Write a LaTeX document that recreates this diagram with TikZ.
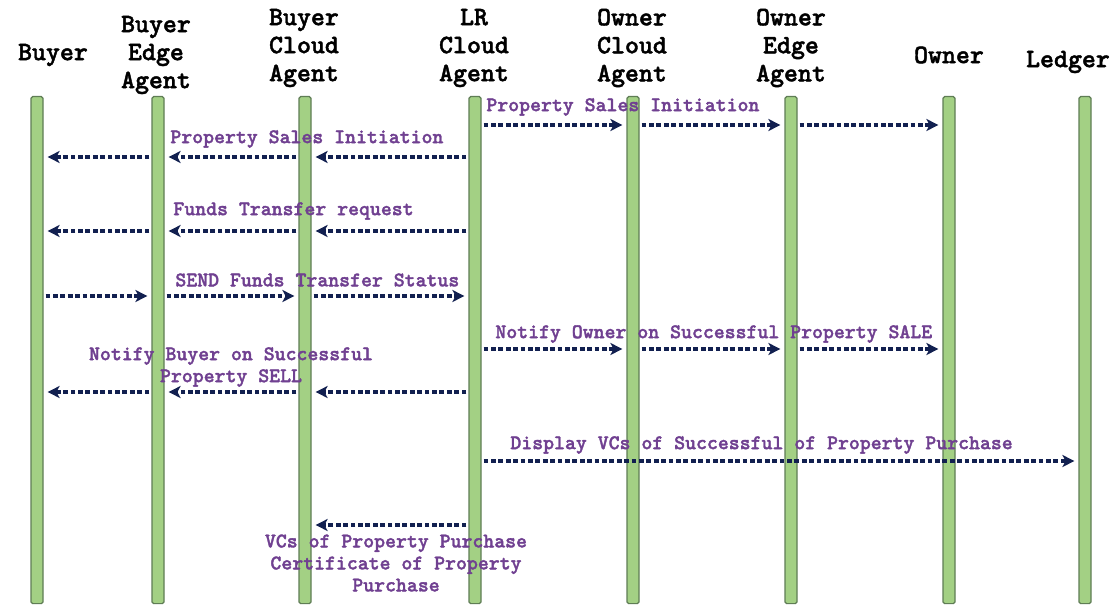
\documentclass[tikz,border=0pt]{standalone}
\usepackage{fontspec}
\newfontfamily\cour{lmmonolt10-bold.otf}[FakeBold=1.6]
\usetikzlibrary{arrows.meta}
\definecolor{barfill}{RGB}{163,208,132}
\definecolor{barline}{RGB}{95,125,85}
\definecolor{msgcol}{RGB}{18,32,80}
\definecolor{lblcol}{RGB}{112,64,145}
\tikzset{
 lifebar/.style={draw=barline, fill=barfill, line width=0.6pt, minimum width=6pt, minimum height=253.5pt, inner sep=0pt, anchor=north, rounded corners=0.8pt},
 hdr/.style={font=\cour\fontsize{13.3}{14}\selectfont, align=center, inner sep=0pt},
 lbl/.style={font=\cour\fontsize{10.4}{11}\selectfont, text=lblcol, inner sep=0pt},
 msg/.style={draw=msgcol, line width=1.6pt, dash pattern=on 2.4pt off 1.3pt, -{Stealth[length=6pt,width=6pt,inset=1.6pt]}, shorten >=2pt, shorten <=1pt},
}
\begin{document}
\begin{tikzpicture}[x=0.5pt,y=-0.5pt]
\useasboundingbox[fill=white] (0,0) rectangle (1112,610);
% lifelines
\node[lifebar] (b)  at (37,96) {};
\node[lifebar] (be) at (158,96) {};
\node[lifebar] (bc) at (305,96) {};
\node[lifebar] (lr) at (475,96) {};
\node[lifebar] (oc) at (633,96) {};
\node[lifebar] (oe) at (791,96) {};
\node[lifebar] (ow) at (949,96) {};
\node[lifebar] (le) at (1085,96) {};
% headers
\node[hdr] (hb)  at (53,55) {Buyer};
\node[hdr] (hbe) at (156,55) {Buyer\\Edge\\Agent};
\node[hdr] (hbc) at (304,48) {Buyer\\Cloud\\Agent};
\node[hdr] (hlr) at (474,48) {LR\\Cloud\\Agent};
\node[hdr] (hoc) at (632,48) {Owner\\Cloud\\Agent};
\node[hdr] (hoe) at (791,48) {Owner\\Edge\\Agent};
\node[hdr] (how) at (949,55) {Owner};
\node[hdr] (hle) at (1068,62) {Ledger};
% message levels
\coordinate (y1) at (0,125);
\coordinate (y2) at (0,157);
\coordinate (y3) at (0,231);
\coordinate (y4) at (0,296);
\coordinate (y5) at (0,349);
\coordinate (y6) at (0,392);
\coordinate (y7) at (0,461);
\coordinate (y8) at (0,525);
% 1
\draw[msg] (lr.east |- y1) -- (oc.west |- y1);
\draw[msg] (oc.east |- y1) -- (oe.west |- y1);
\draw[msg] (oe.east |- y1) -- (ow.west |- y1);
% 2
\draw[msg] (lr.west |- y2) -- (bc.east |- y2);
\draw[msg] (bc.west |- y2) -- (be.east |- y2);
\draw[msg] (be.west |- y2) -- (b.east |- y2);
% 3
\draw[msg] (lr.west |- y3) -- (bc.east |- y3);
\draw[msg] (bc.west |- y3) -- (be.east |- y3);
\draw[msg] (be.west |- y3) -- (b.east |- y3);
% 4
\draw[msg] (b.east |- y4) -- (be.west |- y4);
\draw[msg] (be.east |- y4) -- (bc.west |- y4);
\draw[msg] (bc.east |- y4) -- (lr.west |- y4);
% 5
\draw[msg] (lr.east |- y5) -- (oc.west |- y5);
\draw[msg] (oc.east |- y5) -- (oe.west |- y5);
\draw[msg] (oe.east |- y5) -- (ow.west |- y5);
% 6
\draw[msg] (lr.west |- y6) -- (bc.east |- y6);
\draw[msg] (bc.west |- y6) -- (be.east |- y6);
\draw[msg] (be.west |- y6) -- (b.east |- y6);
% 7
\draw[msg] (lr.east |- y7) -- (le.west |- y7);
% 8
\draw[msg] (lr.west |- y8) -- (bc.east |- y8);
% labels
\node[lbl, anchor=west] (l1) at (486,107) {Property Sales Initiation};
\node[lbl, anchor=west] (l2) at (170,139) {Property Sales Initiation};
\node[lbl, anchor=west] (l3) at (173,211) {Funds Transfer request};
\node[lbl, anchor=west] (l4) at (175,280) {SEND Funds Transfer Status};
\node[lbl, anchor=west] (l5) at (495,334) {Notify Owner on Successful Property SALE};
\node[lbl, align=center] (l6) at (231,367) {Notify Buyer on Successful\\Property SELL};
\node[lbl, anchor=west] (l7) at (510,445) {Display VCs of Successful of Property Purchase};
\node[lbl, align=center] (l8) at (396,563) {VCs of Property Purchase\\Certificate of Property\\Purchase};
\end{tikzpicture}
\end{document}
